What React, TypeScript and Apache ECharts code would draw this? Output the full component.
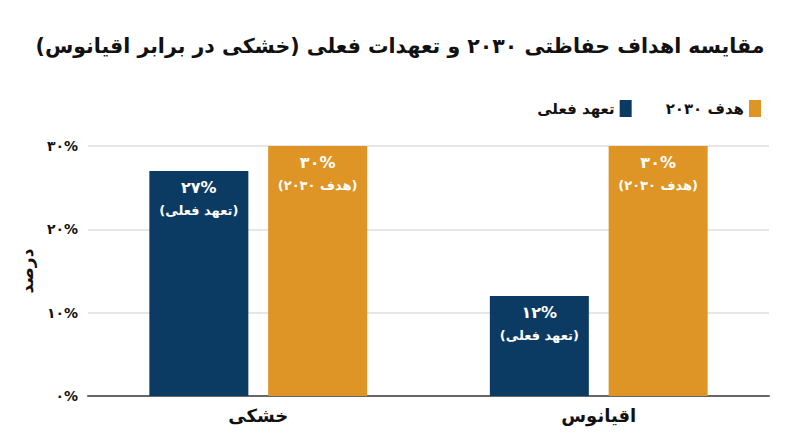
import React, { useEffect, useRef } from "react";
import * as echarts from "echarts";

// داده‌ها
const categories = ["خشکی", "اقیانوس"];
const currentValues = [27, 12]; // تعهد فعلی
const targetValues = [30, 30]; // هدف ۲۰۳۰
const seriesNames = ["تعهد فعلی", "هدف ۲۰۳۰"];
const yTicks = [0, 10, 20, 30];
const titleText = "مقایسه اهداف حفاظتی ۲۰۳۰ و تعهدات فعلی (خشکی در برابر اقیانوس)";

const NAVY = "#0b3a62";
const ORANGE = "#de9526";
const FONT = "'DejaVu Sans', sans-serif";

const faDigits = "۰۱۲۳۴۵۶۷۸۹";
const toFa = (n: number | string) =>
  String(n).replace(/[0-9]/g, (d) => faDigits[Number(d)]);

const App = () => {
  const chartRef = useRef<HTMLDivElement | null>(null);

  useEffect(() => {
    const el = chartRef.current as HTMLDivElement;
    const chart = echarts.init(el, undefined, { renderer: "svg" });

    const barLabel = (tag: string) => ({
      show: true,
      position: "insideTop",
      distance: 4,
      color: "#ffffff",
      fontFamily: FONT,
      fontWeight: "bold",
      formatter: (p: any) => "{v|" + toFa(p.value) + "%}\n{t|(" + tag + ")}",
      rich: {
        v: {
          color: "#ffffff",
          fontFamily: FONT,
          fontWeight: "bold",
          fontSize: 16,
          lineHeight: 24,
        },
        t: {
          color: "#ffffff",
          fontFamily: FONT,
          fontWeight: "bold",
          fontSize: 13,
          lineHeight: 22,
        },
      },
    });

    const options = {
      animation: false,
      backgroundColor: "#ffffff",
      title: {
        text: titleText,
        left: "center",
        top: 30,
        textStyle: {
          fontFamily: FONT,
          fontWeight: "bold",
          fontSize: 20.5,
          color: "#111111",
        },
      },
      legend: {
        right: 34,
        top: 95,
        align: "right",
        itemWidth: 12,
        itemHeight: 17,
        itemGap: 34,
        icon: "rect",
        data: seriesNames,
        textStyle: {
          fontFamily: FONT,
          fontWeight: "bold",
          fontSize: 15,
          color: "#111111",
        },
      },
      grid: {
        left: 88,
        right: 31,
        top: 146,
        bottom: 51,
      },
      xAxis: {
        type: "category",
        data: categories,
        axisTick: { show: false },
        axisLine: { lineStyle: { color: "#666666", width: 2 } },
        axisLabel: {
          margin: 10,
          fontFamily: FONT,
          fontWeight: "bold",
          fontSize: 18,
          color: "#111111",
        },
      },
      yAxis: {
        type: "value",
        min: yTicks[0],
        max: yTicks[yTicks.length - 1],
        interval: yTicks[1] - yTicks[0],
        name: "درصد",
        nameLocation: "middle",
        nameGap: 52,
        nameTextStyle: {
          fontFamily: FONT,
          fontWeight: "bold",
          fontSize: 17,
          color: "#111111",
        },
        axisLine: { show: false },
        axisTick: { show: false },
        splitLine: { lineStyle: { color: "#dedede", width: 1.5 } },
        axisLabel: {
          margin: 10,
          fontFamily: FONT,
          fontWeight: "bold",
          fontSize: 14,
          color: "#111111",
          formatter: (v: number) => toFa(v) + "%",
        },
      },
      series: [
        {
          name: seriesNames[0],
          type: "bar",
          data: currentValues,
          barWidth: 99,
          barGap: "20%",
          itemStyle: { color: NAVY },
          label: barLabel(seriesNames[0]),
        },
        {
          name: seriesNames[1],
          type: "bar",
          data: targetValues,
          barWidth: 99,
          barGap: "20%",
          itemStyle: { color: ORANGE },
          label: barLabel(seriesNames[1]),
        },
      ],
    };

    // عنوان راست‌به‌چپ (برای پرانتزها)
    const fixTitle = () => {
      el.querySelectorAll("text").forEach((t) => {
        if (t.textContent === titleText) t.setAttribute("direction", "rtl");
      });
    };
    chart.on("finished", fixTitle);

    chart.setOption(options);
    fixTitle();
    return () => {
      chart.dispose();
    };
  }, []);

  return (
    <div
      ref={chartRef}
      style={{ position: "fixed", left: 0, top: 0, width: 800, height: 447 }}
    ></div>
  );
};

export default App;
